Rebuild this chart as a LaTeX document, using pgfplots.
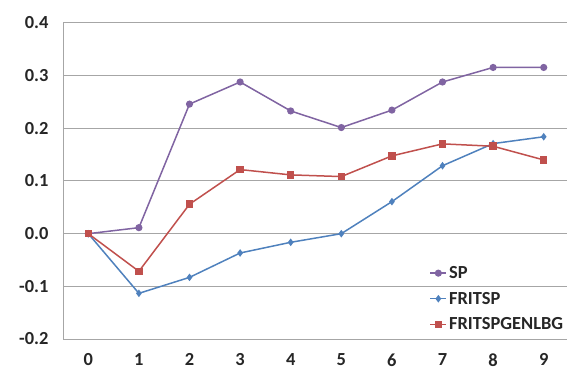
\documentclass[border=0pt]{standalone}
\usepackage{fontspec}
\setmainfont{Carlito}
\usepackage{pgfplots}
\pgfplotsset{compat=1.18}

\definecolor{spc}{HTML}{8064A2}
\definecolor{fritc}{HTML}{4F81BD}
\definecolor{genc}{HTML}{C0504D}
\definecolor{gridc}{HTML}{A6A6A6}
\definecolor{txtc}{HTML}{262626}

\begin{document}
\begin{tikzpicture}
\path[use as bounding box] (-63bp,-32bp) rectangle (504bp,339bp);
\begin{axis}[
    at={(0,0)}, anchor=south west,
    scale only axis,
    width=504bp, height=316bp,
    xmin=-0.5, xmax=9.46,
    ymin=-0.2, ymax=0.4,
    xtick={0,1,2,3,4,5,6,7,8,9},
    xticklabels={0,1,2,3,4,5,6,7,8,9},
    ytick={-0.2,-0.1,0,0.1,0.2,0.3,0.4},
    yticklabels={-0.2,-0.1,0.0,0.1,0.2,0.3,0.4},
    ymajorgrids,
    grid style={gridc, line width=1bp},
    axis x line*=bottom, axis y line*=left,
    axis line style={gridc, line width=1bp, -},
    major tick length=0pt,
    xtick style={draw=none}, ytick style={draw=none},
    tick label style={font=\fontsize{18.5}{21}\selectfont\bfseries, text=txtc},
    xticklabel style={yshift=-11bp},
    yticklabel style={xshift=-11bp},
    legend style={draw=none, fill=none, at={(0.725,0.015)}, anchor=south west,
        font=\fontsize{18.5}{21}\selectfont\bfseries, text=txtc,
        row sep=8bp, inner sep=1bp},
    legend cell align=left,
    legend image code/.code={%
        \draw[mark repeat=2,mark phase=2] plot coordinates {(0bp,0bp)(8bp,0bp)(16bp,0bp)};},
]
\addplot[spc, line width=1.5bp, mark=*, mark size=2.8bp] coordinates {
(0,0) (1,0.0114) (2,0.246) (3,0.288) (4,0.233) (5,0.2015) (6,0.2346) (7,0.288) (8,0.3156) (9,0.3156)};
\addlegendentry{SP}
\addplot[fritc, line width=1.5bp, mark=diamond*, mark size=2.6bp] coordinates {
(0,0) (1,-0.1133) (2,-0.083) (3,-0.0367) (4,-0.0164) (5,0) (6,0.0608) (7,0.129) (8,0.171) (9,0.184)};
\addlegendentry{FRITSP}
\addplot[genc, line width=1.5bp, mark=square*, mark size=3bp] coordinates {
(0,0) (1,-0.0715) (2,0.0559) (3,0.1217) (4,0.1116) (5,0.1084) (6,0.1477) (7,0.1705) (8,0.166) (9,0.140)};
\addlegendentry{FRITSPGENLBG}
\end{axis}
\end{tikzpicture}
\end{document}
